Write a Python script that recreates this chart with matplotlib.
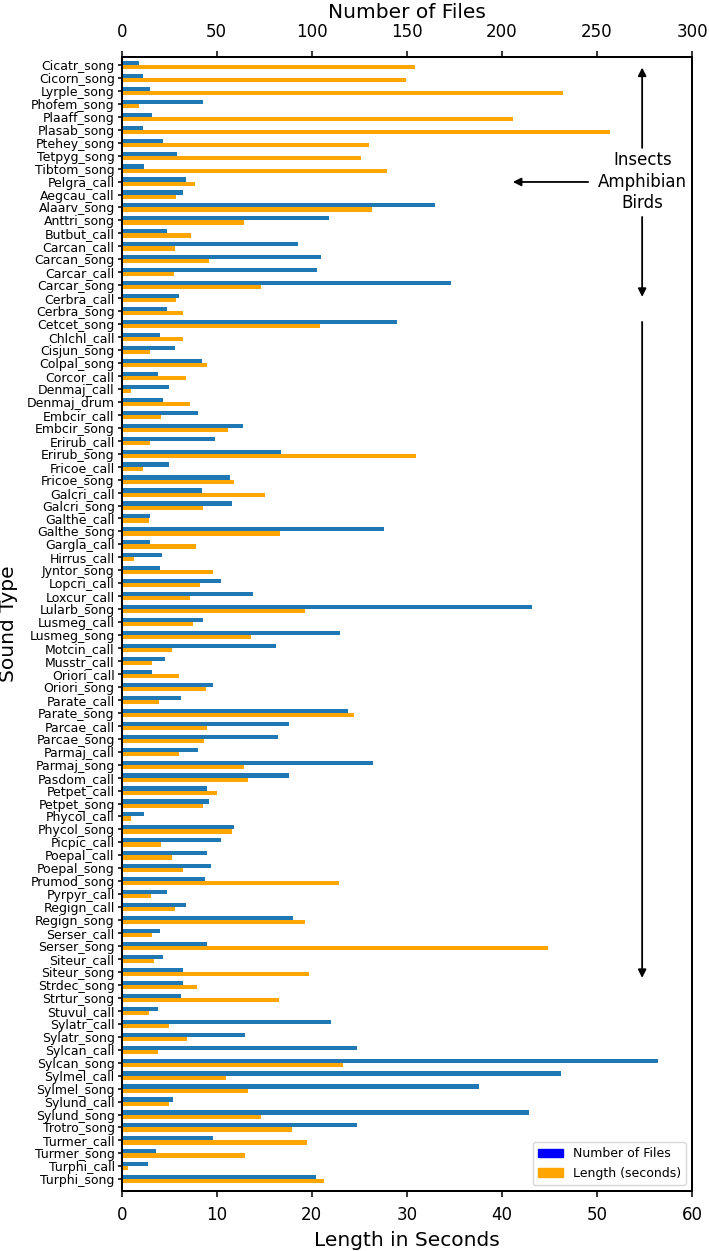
import numpy as np
import matplotlib
matplotlib.use("Agg")
import matplotlib.pyplot as plt
import matplotlib.patches as mpatches


# ---- Donnees ---- #

sound_types = [
    "Cicatr_song", "Cicorn_song", "Lyrple_song", "Phofem_song", "Plaaff_song",
    "Plasab_song", "Ptehey_song", "Tetpyg_song", "Tibtom_song", "Pelgra_call",
    "Aegcau_call", "Alaarv_song", "Anttri_song", "Butbut_call", "Carcan_call",
    "Carcan_song", "Carcar_call", "Carcar_song", "Cerbra_call", "Cerbra_song",
    "Cetcet_song", "Chlchl_call", "Cisjun_song", "Colpal_song", "Corcor_call",
    "Denmaj_call", "Denmaj_drum", "Embcir_call", "Embcir_song", "Erirub_call",
    "Erirub_song", "Fricoe_call", "Fricoe_song", "Galcri_call", "Galcri_song",
    "Galthe_call", "Galthe_song", "Gargla_call", "Hirrus_call", "Jyntor_song",
    "Lopcri_call", "Loxcur_call", "Lularb_song", "Lusmeg_call", "Lusmeg_song",
    "Motcin_call", "Musstr_call", "Oriori_call", "Oriori_song", "Parate_call",
    "Parate_song", "Parcae_call", "Parcae_song", "Parmaj_call", "Parmaj_song",
    "Pasdom_call", "Petpet_call", "Petpet_song", "Phycol_call", "Phycol_song",
    "Picpic_call", "Poepal_call", "Poepal_song", "Prumod_song", "Pyrpyr_call",
    "Regign_call", "Regign_song", "Serser_call", "Serser_song", "Siteur_call",
    "Siteur_song", "Strdec_song", "Strtur_song", "Stuvul_call", "Sylatr_call",
    "Sylatr_song", "Sylcan_call", "Sylcan_song", "Sylmel_call", "Sylmel_song",
    "Sylund_call", "Sylund_song", "Trotro_song", "Turmer_call", "Turmer_song",
    "Turphi_call", "Turphi_song",
]

n_files = [
    9, 11, 15, 43, 16,
    11, 22, 29, 12, 34,
    32, 165, 109, 24, 93,
    105, 103, 173, 30, 24,
    145, 20, 28, 42, 19,
    25, 22, 40, 64, 49,
    84, 25, 57, 42, 58,
    15, 138, 15, 21, 20,
    52, 69, 216, 43, 115,
    81, 23, 16, 48, 31,
    119, 88, 82, 40, 132,
    88, 45, 46, 12, 59,
    52, 45, 47, 44, 24,
    34, 90, 20, 45, 22,
    32, 32, 31, 19, 110,
    65, 124, 282, 231, 188,
    27, 214, 124, 48, 18,
    14, 102,
]

length_s = [
    30.9, 29.9, 46.4, 1.8, 41.2,
    51.4, 26.0, 25.2, 27.9, 7.7,
    5.7, 26.3, 12.9, 7.3, 5.6,
    9.2, 5.5, 14.7, 5.7, 6.5,
    20.9, 6.4, 3.0, 9.0, 6.8,
    1.0, 7.2, 4.1, 11.2, 3.0,
    31.0, 2.2, 11.8, 15.1, 8.6,
    2.9, 16.7, 7.8, 1.3, 9.6,
    8.2, 7.2, 19.3, 7.5, 13.6,
    5.3, 3.2, 6.0, 8.9, 3.9,
    24.4, 9.0, 8.7, 6.0, 12.9,
    13.3, 10.0, 8.6, 1.0, 11.6,
    4.1, 5.3, 6.5, 22.9, 3.1,
    5.6, 19.3, 3.2, 44.8, 3.4,
    19.7, 7.9, 16.6, 2.9, 5.0,
    6.9, 3.8, 23.3, 11.0, 13.3,
    5.0, 14.7, 17.9, 19.5, 13.0,
    0.7, 21.3,
]


# ---- Figure ---- #

plt.rcParams["font.family"] = "DejaVu Sans"

fig = plt.figure(figsize=(7.09, 12.51), dpi=100)
ax = fig.add_axes([0.1716, 0.048, 0.8045, 0.9067])
ax2 = ax.twiny()

y = np.arange(len(sound_types))
h = 0.32

# Longueur (axe du bas) et nombre de fichiers (axe du haut)
ax.barh(y + h / 2, length_s, height=h, color="orange")
ax2.barh(y - h / 2, n_files, height=h, color="#1f77b4")

ax.set_xlim(0, 60)
ax2.set_xlim(0, 300)
ax.set_ylim(86.9, -0.64)

ax.set_yticks(y)
ax.set_yticklabels(sound_types, fontsize=9)
ax.tick_params(axis="x", labelsize=12, length=4.5, pad=6)
ax2.tick_params(axis="x", labelsize=12, length=4.5, pad=7)
ax.tick_params(axis="y", length=3, pad=2)

ax.set_xlabel("Length in Seconds", fontsize=14.5, labelpad=5.5)
ax2.set_xlabel("Number of Files", fontsize=14.5, labelpad=3.5)
ax.set_ylabel("Sound Type", fontsize=14.5, labelpad=6)

for a in (ax, ax2):
    for s in a.spines.values():
        s.set_linewidth(1.4)
    a.tick_params(width=1.1)

# Annotations des groupes
ax.text(54.8, 9.03, "Insects\nAmphibian\nBirds", ha="center", va="center",
        fontsize=12, linespacing=1.25)
arrow = dict(arrowstyle="-|>", color="black", lw=1.3, shrinkA=0, shrinkB=0,
             mutation_scale=12)
ax.annotate("", xy=(54.75, 0.2), xytext=(54.75, 6.4), arrowprops=arrow)
ax.annotate("", xy=(41.15, 9.03), xytext=(49.07, 9.03), arrowprops=arrow)
ax.annotate("", xy=(54.75, 17.9), xytext=(54.75, 11.73), arrowprops=arrow)
ax.annotate("", xy=(54.75, 70.46), xytext=(54.75, 19.83), arrowprops=arrow)

handles = [mpatches.Patch(color="blue", label="Number of Files"),
           mpatches.Patch(color="orange", label="Length (seconds)")]
ax2.legend(handles=handles, loc="lower right", fontsize=9)

fig.savefig("out.png", dpi=100)
